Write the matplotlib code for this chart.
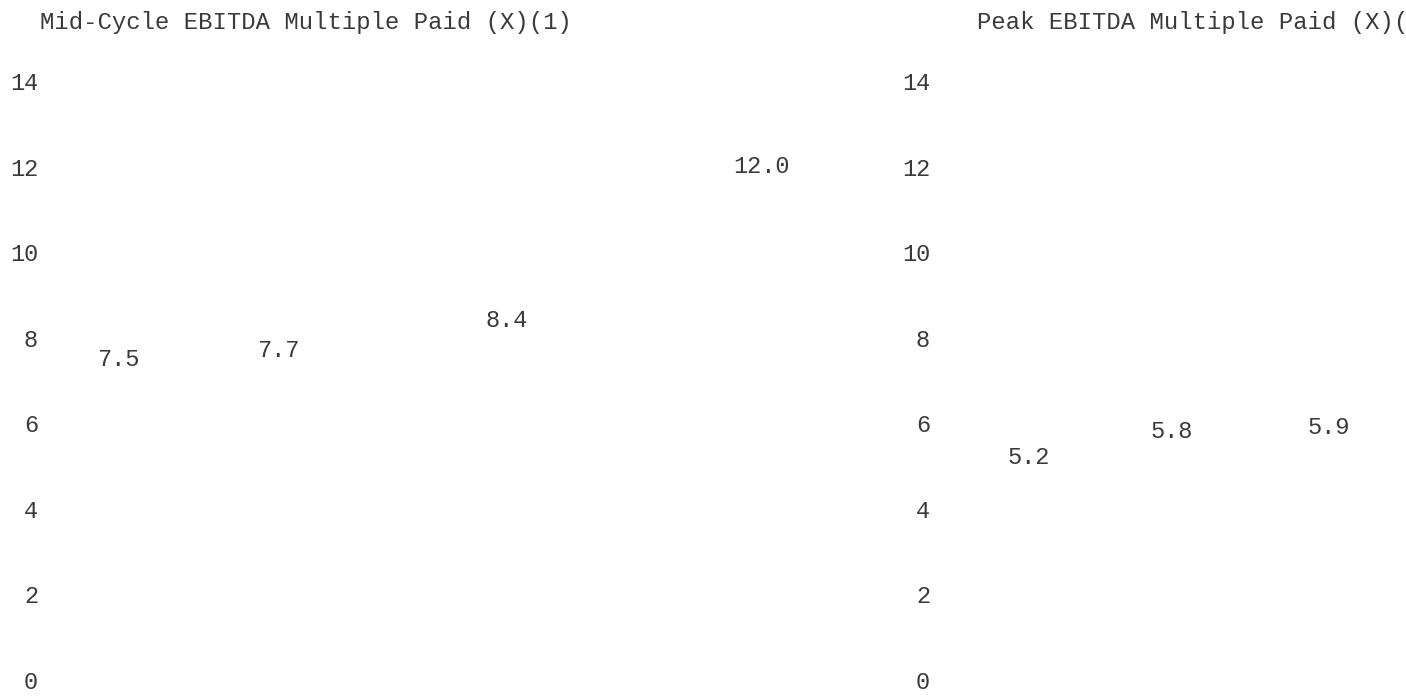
import matplotlib.pyplot as plt

# chart values
left_title = "Mid-Cycle EBITDA Multiple Paid (X)(1)"
right_title = "Peak EBITDA Multiple Paid (X)(1)"
left_values = [7.5, 7.7, 8.4, 12.0]
right_values = [5.2, 5.8, 5.9]
y_ticks = [0, 2, 4, 6, 8, 10, 12, 14]

# layout: category slot centres (bars have uneven widths in the source)
left_slots = [0.35, 1.12, 2.21, 3.43]
right_slots = [0.39, 1.00, 1.67]

W, H = 1406, 696
text_color = "#3a3a3a"
plt.rcParams['font.family'] = ['Liberation Mono', 'DejaVu Sans Mono']

fig = plt.figure(figsize=(W / 100, H / 100), dpi=100)

def px_axes(x0, x1, y_top, y_bot):
    return fig.add_axes([x0 / W, 1 - y_bot / H, (x1 - x0) / W, (y_bot - y_top) / H])

ax_l = px_axes(45, 880, 81, 680)
ax_r = px_axes(937, 1406, 81, 680)

for ax, slots, vals, xmax in [(ax_l, left_slots, left_values, 4),
                              (ax_r, right_slots, right_values, 2)]:
    ax.set_xlim(0, xmax)
    ax.set_ylim(0, 14)
    ax.set_yticks(y_ticks)
    ax.set_yticklabels([str(t) for t in y_ticks])
    ax.tick_params(axis='y', length=0, pad=5, labelsize=17, labelcolor=text_color)
    ax.set_xticks([])
    for s in ax.spines.values():
        s.set_visible(False)
    # invisible bars, only the value labels show
    ax.bar(slots, vals, width=0.4, color='none')
    for x, v in zip(slots, vals):
        ax.text(x, v, f"{v:.1f}", ha='center', va='center', fontsize=17, color=text_color)

fig.text(40 / W, 1 - 23 / H, left_title, ha='left', va='center', fontsize=17.2, color=text_color)
# the source cuts this title off at the right edge
fig.text(977 / W, 1 - 23 / H, right_title, ha='left', va='center', fontsize=17.2, color=text_color)

fig.savefig("out.png", dpi=100)
